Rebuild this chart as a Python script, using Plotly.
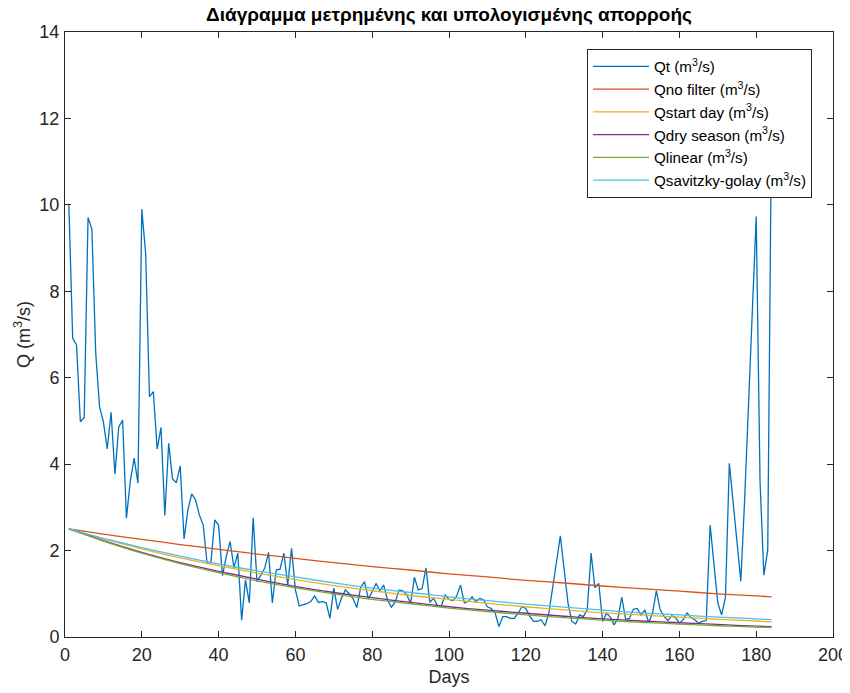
import plotly.graph_objects as go

days = list(range(1, 185))
qt = [
    10.02, 6.91, 6.76, 4.98, 5.08, 9.71, 9.44, 6.57, 5.33, 4.98,
    4.35, 5.20, 3.77, 4.86, 5.02, 2.75, 3.60, 4.14, 3.56, 9.90,
    8.88, 5.56, 5.68, 4.35, 4.85, 2.81, 4.48, 3.66, 3.57, 3.96,
    2.27, 2.94, 3.31, 3.17, 2.82, 2.59, 1.70, 1.72, 2.71, 2.59,
    1.42, 1.86, 2.21, 1.60, 1.94, 0.39, 1.32, 0.79, 2.76, 1.28,
    1.43, 1.59, 1.96, 0.79, 1.55, 1.57, 1.94, 1.20, 2.05, 1.09,
    0.72, 0.74, 0.77, 0.82, 0.95, 0.80, 0.82, 0.79, 0.43, 1.13,
    0.64, 0.90, 1.09, 1.00, 0.89, 0.68, 1.15, 1.28, 0.88, 1.05,
    1.24, 1.07, 1.20, 0.85, 0.69, 0.81, 1.09, 1.07, 0.98, 0.78,
    1.38, 1.09, 1.12, 1.60, 0.80, 0.90, 0.72, 0.72, 0.97, 0.87,
    0.84, 0.95, 1.20, 0.79, 0.82, 0.93, 0.82, 0.89, 0.86, 0.70,
    0.66, 0.56, 0.24, 0.47, 0.47, 0.43, 0.43, 0.55, 0.70, 0.66,
    0.49, 0.36, 0.36, 0.40, 0.26, 0.55, 1.16, 1.78, 2.34, 1.55,
    0.78, 0.36, 0.30, 0.51, 0.47, 0.63, 1.94, 1.14, 1.24, 0.36,
    0.55, 0.46, 0.28, 0.43, 0.92, 0.41, 0.43, 0.64, 0.66, 0.51,
    0.63, 0.33, 0.55, 1.07, 0.63, 0.48, 0.38, 0.49, 0.45, 0.32,
    0.40, 0.56, 0.45, 0.40, 0.32, 0.36, 0.38, 2.59, 1.63, 0.79,
    0.51, 0.93, 4.02, 3.10, 2.20, 1.29, 3.20, 5.30, 7.50, 9.73,
    3.60, 1.43, 2.01, 12.0,
]
assert len(qt) == len(days)

# Fitted recession curves, read at sample days
fit_days = [1, 10, 20, 30, 40, 50, 60, 70, 80, 90, 100, 110, 120, 130, 140, 150, 160, 170, 180, 184]
q_nofilter = [2.50, 2.38, 2.26, 2.14, 2.03, 1.92, 1.82, 1.72, 1.63, 1.55, 1.46, 1.39, 1.31, 1.25, 1.18, 1.12, 1.06, 1.00, 0.95, 0.93]
q_startday = [2.50, 2.27, 2.04, 1.83, 1.65, 1.48, 1.33, 1.19, 1.07, 0.96, 0.87, 0.78, 0.70, 0.63, 0.56, 0.51, 0.46, 0.41, 0.37, 0.35]
q_dryseason = [2.50, 2.23, 1.96, 1.72, 1.52, 1.34, 1.17, 1.03, 0.91, 0.80, 0.70, 0.62, 0.55, 0.48, 0.42, 0.37, 0.33, 0.29, 0.25, 0.24]
q_linear = [2.50, 2.22, 1.94, 1.70, 1.49, 1.30, 1.14, 1.00, 0.87, 0.77, 0.67, 0.59, 0.51, 0.45, 0.39, 0.34, 0.30, 0.26, 0.23, 0.22]
q_savgol = [2.50, 2.28, 2.07, 1.87, 1.69, 1.53, 1.39, 1.25, 1.13, 1.03, 0.93, 0.84, 0.76, 0.69, 0.62, 0.56, 0.51, 0.46, 0.42, 0.40]

names = ["Qt (m<sup>3</sup>/s)", "Qno filter (m<sup>3</sup>/s)", "Qstart day (m<sup>3</sup>/s)",
         "Qdry season (m<sup>3</sup>/s)", "Qlinear (m<sup>3</sup>/s)", "Qsavitzky-golay (m<sup>3</sup>/s)"]
colors = ["#0072BD", "#D95319", "#EDB120", "#7E2F8E", "#77AC30", "#4DBEEE"]

fig = go.Figure()
fig.add_trace(go.Scatter(x=days, y=qt, mode="lines", name=names[0],
                         line=dict(color=colors[0], width=1.3)))
for nm, col, ys in zip(names[1:], colors[1:], [q_nofilter, q_startday, q_dryseason, q_linear, q_savgol]):
    fig.add_trace(go.Scatter(x=fit_days, y=ys, mode="lines", name=nm,
                             line=dict(color=col, width=1.3, shape="spline", smoothing=0.6)))

axis_common = dict(showline=True, mirror="ticks", linecolor="#262626", linewidth=1,
                   ticks="inside", ticklen=6, tickcolor="#262626", tickwidth=1,
                   showgrid=False, zeroline=False, automargin=False,
                   ticklabelstandoff=1,
                   tickfont=dict(family="Liberation Sans, Arial", size=18, color="#262626"))

# the page body adds an 8px offset, so the figure is sized 8px smaller
W, H = 842, 685
fig.update_layout(
    width=W, height=H,
    margin=dict(l=57, r=17, t=24, b=56),
    paper_bgcolor="white", plot_bgcolor="white",
    font=dict(family="Liberation Sans, Arial", color="#262626"),
    title=dict(text="<b>Διάγραμμα μετρημένης και υπολογισμένης απορροής</b>",
               x=0.5, xref="paper", xanchor="center", y=1.0, yref="container", yanchor="top",
               pad=dict(t=0, b=0),
               font=dict(family="Liberation Sans, Arial", size=19, color="#000000")),
    xaxis=dict(range=[0, 200], tickvals=list(range(0, 201, 20)),
               title=dict(text="Days", font=dict(size=18, color="#262626"), standoff=6),
               **axis_common),
    yaxis=dict(range=[0, 14], tickvals=list(range(0, 15, 2)),
               title=dict(text="Q (m<sup>3</sup>/s)", font=dict(size=18, color="#262626"), standoff=4),
               **axis_common),
    legend=dict(x=0.9727, y=0.972, xanchor="right", yanchor="top",
                bgcolor="white", bordercolor="#262626", borderwidth=1,
                font=dict(family="Liberation Sans, Arial", size=15.2, color="#000000"),
                itemwidth=56, tracegroupgap=0),
    showlegend=True,
)

fig.write_html("out.html")
